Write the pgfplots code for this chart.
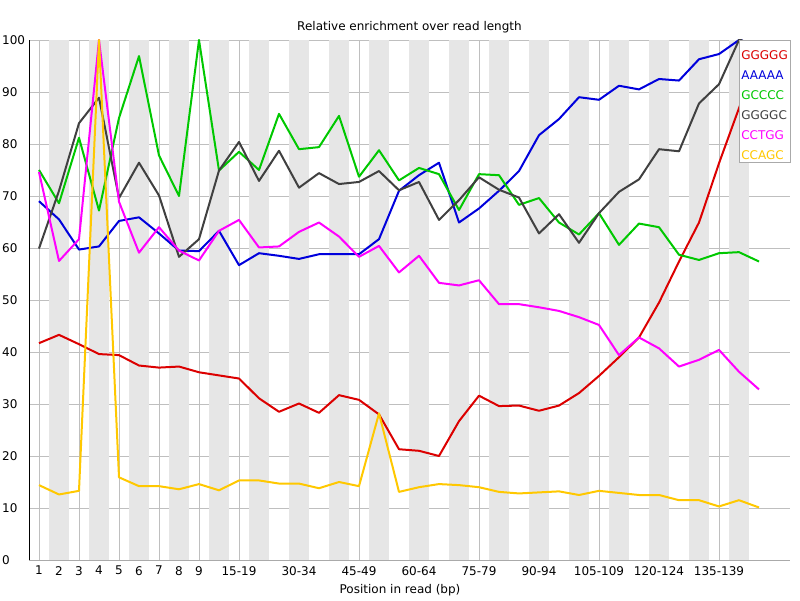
\documentclass[border=0pt]{standalone}
\usepackage{fontspec}
\setmainfont{DejaVu Sans}
\usepackage{pgfplots}
\usepackage{pgfplotstable}
\pgfplotsset{compat=1.18}

\definecolor{cRed}{RGB}{220,0,0}
\definecolor{cBlue}{RGB}{0,0,220}
\definecolor{cGreen}{RGB}{0,200,0}
\definecolor{cGray}{RGB}{64,64,64}
\definecolor{cMag}{RGB}{255,0,255}
\definecolor{cYel}{RGB}{255,200,0}
\definecolor{band}{RGB}{230,230,230}
\definecolor{grid}{RGB}{170,170,170}

% relative enrichment per position bin (0 = pos 1, 9 = 10-14, ...)
\pgfplotstableread{
i  red   blue  green gray  mag   yel
0  41.7  69.0  75.0  59.9  74.6  14.4
1  43.3  65.5  68.6  71.0  57.5  12.6
2  41.5  59.7  81.2  84.0  61.7  13.3
3  39.6  60.3  67.2  88.9  100   100
4  39.4  65.2  85.0  69.6  68.9  15.9
5  37.4  65.9  96.9  76.4  59.1  14.2
6  37.0  62.8  77.8  70.1  64.0  14.2
7  37.2  59.5  70.0  58.3  59.5  13.6
8  36.1  59.4  100   61.7  57.6  14.6
9  35.5  63.3  74.9  74.9  63.3  13.4
10 34.9  56.7  78.5  80.4  65.4  15.3
11 31.1  59.0  75.0  72.9  60.1  15.3
12 28.5  58.5  85.8  78.7  60.3  14.7
13 30.1  57.9  79.0  71.6  63.1  14.7
14 28.3  58.8  79.4  74.4  64.9  13.8
15 31.7  58.8  85.4  72.3  62.2  15.0
16 30.8  58.8  73.7  72.7  58.3  14.2
17 28.0  61.7  78.8  74.8  60.4  28.2
18 21.3  71.0  73.0  71.1  55.3  13.1
19 21.0  74.0  75.4  72.7  58.5  14.0
20 20.0  76.4  74.2  65.4  53.3  14.6
21 26.7  64.9  67.3  69.2  52.8  14.4
22 31.6  67.6  74.2  73.6  53.8  14.0
23 29.6  71.0  74.0  71.2  49.2  13.1
24 29.7  74.8  68.3  69.7  49.2  12.8
25 28.7  81.7  69.6  62.8  48.6  13.0
26 29.7  84.8  64.9  66.5  47.9  13.2
27 32.1  89.0  62.6  61.0  46.7  12.5
28 35.4  88.5  66.7  66.7  45.2  13.3
29 39.0  91.2  60.6  70.8  39.4  12.9
30 42.8  90.5  64.7  73.2  42.8  12.5
31 49.5  92.5  64.0  79.0  40.7  12.5
32 57.4  92.2  58.7  78.6  37.2  11.5
33 64.9  96.3  57.7  87.8  38.5  11.5
34 76.3  97.3  59.0  91.5  40.4  10.3
35 86.9  100   59.2  100   36.2  11.5
36 97.0  102   57.4  102   32.8  10.1
}\kmers

\begin{document}
\fontsize{12}{14}\selectfont
\begin{tikzpicture}[x=1pt,y=1pt]
\begin{axis}[at={(29pt,40pt)},anchor=south west,scale only axis,
  width=761pt,height=520pt,set layers=standard,
  xmin=-0.5,xmax=37.55,ymin=0,ymax=100,
  axis x line*=bottom,axis y line*=left,
  x axis line style={grid,line width=0.8pt},
  y axis line style={black,line width=0.8pt},
  ytick={0,10,...,100},
  xtick={0,1,...,8,10,13,16,19,22,25,28,31,34},
  xticklabels={1,2,3,4,5,6,7,8,9,15-19,30-34,45-49,60-64,75-79,90-94,105-109,120-124,135-139},
  major tick length=0pt,
  ymajorgrids,major grid style={grid,line width=0.8pt},
  tick label style={font=\fontsize{12}{14}\selectfont},
  /pgf/number format/assume math mode=true,
  yticklabel style={anchor=west,inner sep=0pt,xshift=-27pt},
  xticklabel style={yshift=-2pt},
  legend style={at={(1,1)},anchor=north east,draw=grid,fill=white,
    font=\fontsize{12}{14}\selectfont,inner xsep=2pt,inner ysep=3pt,
    row sep=4pt,nodes={inner sep=0pt,text height=16pt,text depth=0pt},
    /tikz/every even column/.append style={column sep=0pt}},
  legend cell align=left,
  legend image code/.code={},
  every axis plot/.append style={line width=2pt,line join=round,mark=none},
]
\pgfplotsinvokeforeach{1,3,...,35}{
  \fill[band,on layer=axis background] (axis cs:#1-0.5,0) rectangle (axis cs:#1+0.5,100);
}
\addplot[cRed] table[x=i,y=red]{\kmers};
\addlegendentry{\textcolor{cRed}{GGGGG}}
\addplot[cBlue] table[x=i,y=blue]{\kmers};
\addlegendentry{\textcolor{cBlue}{AAAAA}}
\addplot[cGreen] table[x=i,y=green]{\kmers};
\addlegendentry{\textcolor{cGreen}{GCCCC}}
\addplot[cGray] table[x=i,y=gray]{\kmers};
\addlegendentry{\textcolor{cGray}{GGGGC}}
\addplot[cMag] table[x=i,y=mag]{\kmers};
\addlegendentry{\textcolor{cMag}{CCTGG}}
\addplot[cYel] table[x=i,y=yel]{\kmers};
\addlegendentry{\textcolor{cYel}{CCAGC}}
\end{axis}
\node[anchor=base] at (409.5,569) {Relative enrichment over read length};
\node[anchor=base] at (400,7) {Position in read (bp)};
\pgfresetboundingbox
\path[use as bounding box] (0,0) rectangle (800,600);
\end{tikzpicture}
\end{document}
